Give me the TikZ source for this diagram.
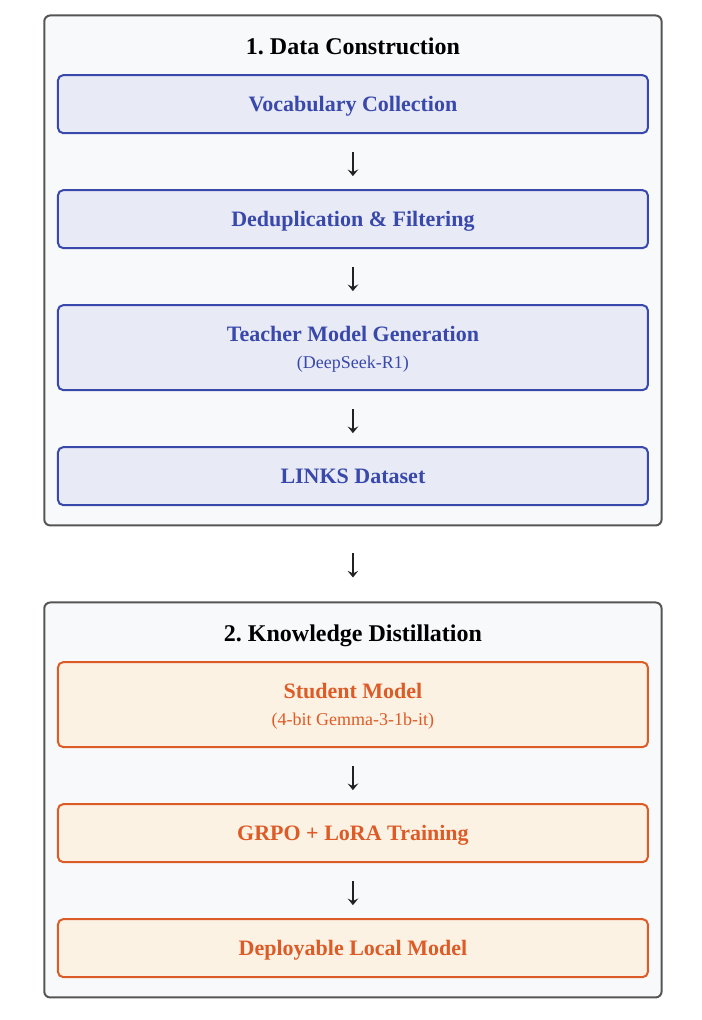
\documentclass[tikz,border=0pt]{standalone}
\usepackage{fontspec}
\setmainfont{Liberation Serif}
\usetikzlibrary{arrows.meta, positioning, fit, calc, backgrounds}

\definecolor{dcline}{HTML}{3949AB}
\definecolor{dcfill}{HTML}{E8EAF6}
\definecolor{kdline}{HTML}{DD5B26}
\definecolor{kdfill}{HTML}{FCF2E3}
\definecolor{framegray}{HTML}{555555}
\definecolor{framefill}{HTML}{F8F9FA}
\definecolor{arrowgray}{HTML}{222222}

\newcommand{\subline}[1]{{\normalfont\fontsize{13.5}{16}\selectfont #1}}

\begin{document}
\begin{tikzpicture}[
    node distance=41.25pt,
    dcbox/.style={rectangle, draw=dcline, fill=dcfill, text=dcline, line width=1.5pt, rounded corners=4pt, align=center, minimum width=442.5pt, minimum height=43.5pt, text depth=0pt, font=\bfseries\fontsize{16.5}{20}\selectfont},
    kdbox/.style={dcbox, draw=kdline, fill=kdfill, text=kdline},
    stage/.style={rectangle, draw=framegray, fill=framefill, line width=1.5pt, rounded corners=4.5pt, inner sep=0pt},
    stagetitle/.style={font=\bfseries\fontsize{18}{21}\selectfont, inner sep=0pt},
    arrow/.style={-{Stealth[length=5pt, width=8pt, inset=2pt]}, line width=1pt, draw=arrowgray, shorten <=13.75pt, shorten >=9.75pt}
]

% Stage 1 nodes
\node[dcbox] (vocab) {Vocabulary Collection};
\node[dcbox, below=of vocab] (dedup) {Deduplication \& Filtering};
\node[dcbox, below=of dedup, minimum height=63.75pt] (teacher) {Teacher Model Generation\\\subline{(DeepSeek-R1)}};
\node[dcbox, below=of teacher] (links) {LINKS Dataset};
\node[stagetitle, above=14.5pt of vocab, anchor=base] (title1) {1.\ Data Construction};

% Stage 2 nodes
\node[kdbox, below=116.25pt of links, minimum height=63.75pt] (student) {Student Model\\\subline{(4-bit Gemma-3-1b-it)}};
\node[kdbox, below=of student] (grpo) {GRPO + LoRA Training};
\node[kdbox, below=of grpo] (deploy) {Deployable Local Model};
\node[stagetitle, above=14.5pt of student, anchor=base] (title2) {2.\ Knowledge Distillation};

% Frame corners
\coordinate (s1nw) at ($(vocab.north west)+(-9.5pt,44pt)$);
\coordinate (s1se) at ($(links.south east)+(9.5pt,-14.5pt)$);
\coordinate (s2nw) at ($(student.north west)+(-9.5pt,44pt)$);
\coordinate (s2se) at ($(deploy.south east)+(9.5pt,-14.5pt)$);

\begin{scope}[on background layer]
    \node[stage, fit=(s1nw) (s1se)] (stage1) {};
    \node[stage, fit=(s2nw) (s2se)] (stage2) {};
\end{scope}

% Arrows
\draw[arrow] (vocab) -- (dedup);
\draw[arrow] (dedup) -- (teacher);
\draw[arrow] (teacher) -- (links);
\draw[arrow, shorten <=20.25pt, shorten >=18pt] (stage1) -- (stage2);
\draw[arrow] (student) -- (grpo);
\draw[arrow] (grpo) -- (deploy);

\useasboundingbox ($(s1nw)+(-33.2pt,11.6pt)$) rectangle ++(526.5pt,-765pt);

\end{tikzpicture}
\end{document}
